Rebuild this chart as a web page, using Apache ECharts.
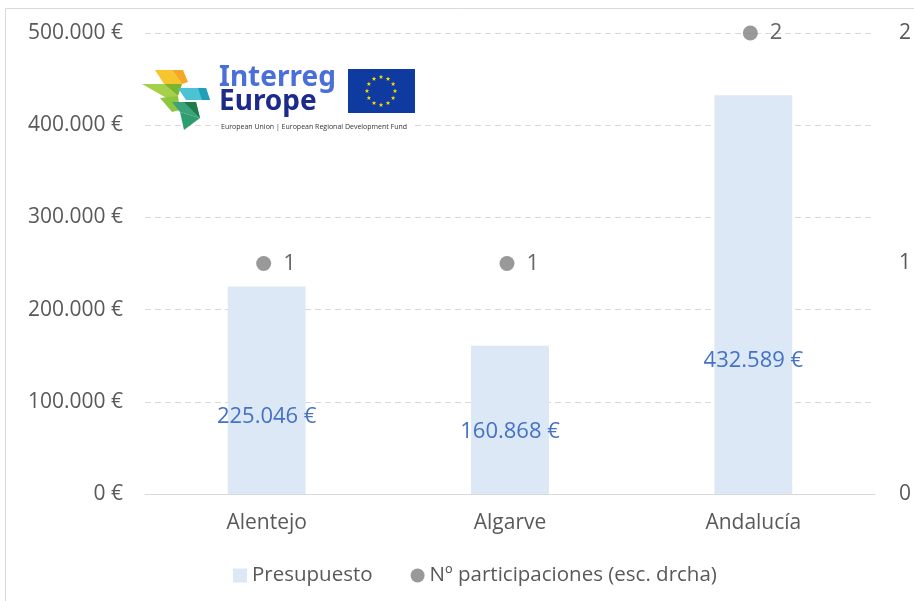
<!DOCTYPE html>
<html><head><meta charset="utf-8">
<script src="https://cdn.jsdelivr.net/npm/echarts@6/dist/echarts.min.js"></script>
<style>html,body{margin:0;padding:0;background:#fff}#c{width:914px;height:601px}</style>
</head><body><div id="c"></div>
<script>
const categories = ['Alentejo', 'Algarve', 'Andalucía'];
const presupuesto = [225046, 160868, 432589];
const participaciones = [1, 1, 2];
const leftTicks = [0, 100000, 200000, 300000, 400000, 500000];
const rightTicks = [0, 1, 2];

const FONT = '"Open Sans", "Noto Sans", sans-serif';
function fmt(v){ return String(v).replace(/\B(?=(\d{3})+(?!\d))/g, '.') + ' €'; }
const labelOffsets = [26, 12, 66];

const chart = echarts.init(document.getElementById('c'), null, {renderer:'canvas'});

// stars for EU flag
function starPts(cx, cy, r, r0){
  const pts = [];
  for (let k = 0; k < 10; k++) {
    const rr = k % 2 ? r0 : r;
    const a = k * Math.PI / 5;
    pts.push([cx + rr*Math.sin(a), cy - rr*Math.cos(a)]);
  }
  return pts;
}
const stars = [];
for (let i = 0; i < 12; i++) {
  const a = i * Math.PI / 6;
  stars.push({type:'polygon', shape:{points:starPts(381 + 14*Math.sin(a), 91 - 14*Math.cos(a), 2.4, 1)}, style:{fill:'#ffdd00'}, z:101});
}

chart.setOption({
  backgroundColor:'#fff',
  animation:false,
  textStyle:{fontFamily:FONT},
  grid:{left:145, right:38, top:33, bottom:107, containLabel:false},
  legend:{
    bottom:10, left:228, itemGap:38, itemWidth:14, itemHeight:14,
    textStyle:{fontSize:20.5, color:'#595959', fontFamily:FONT},
    data:[{name:'Presupuesto', icon:'rect'}, {name:'Nº participaciones (esc. drcha)', icon:'circle'}]
  },
  xAxis:{
    type:'category', data:categories,
    axisLine:{lineStyle:{color:'#d9d9d9', width:1}},
    axisTick:{show:false},
    axisLabel:{fontSize:21, color:'#595959', margin:19, fontFamily:FONT}
  },
  yAxis:[{
    type:'value', min:0, max:500000, interval:100000,
    axisLabel:{fontSize:21, color:'#595959', margin:22, formatter:v=>fmt(v), fontFamily:FONT},
    splitLine:{lineStyle:{color:'#d9d9d9', type:[6,4], width:1}},
    axisLine:{show:false}, axisTick:{show:false}
  },{
    type:'value', min:0, max:2, interval:1,
    axisLabel:{fontSize:21, color:'#595959', margin:24, fontFamily:FONT},
    splitLine:{show:false}, axisLine:{show:false}, axisTick:{show:false}
  }],
  series:[{
    name:'Presupuesto', type:'bar', yAxisIndex:0, barWidth:'32%',
    itemStyle:{color:'#dce8f6'},
    data: presupuesto.map((v,i)=>({value:v, label:{offset:[0, labelOffsets[i]]}})),
    label:{show:true, position:'inside', formatter:p=>fmt(p.value), fontSize:22, color:'#4472c4', fontFamily:FONT},
    z:2
  },{
    name:'Nº participaciones (esc. drcha)', type:'scatter', yAxisIndex:1,
    symbol:'circle', symbolSize:15, symbolOffset:[-3,0],
    itemStyle:{color:'#7f7f7f'},
    data: participaciones,
    label:{show:true, position:'right', distance:12, fontSize:22, color:'#404040', fontFamily:FONT},
    z:3
  }],
  graphic:[
    {type:'rect', shape:{x:5.5, y:8.5, width:930, height:620}, style:{fill:null, stroke:'#d9d9d9', lineWidth:1}, z:-1, silent:true},
    {type:'group', z:100, children:[
      {type:'rect', shape:{x:140, y:66, width:278, height:54}, style:{fill:'#fff'}, z:100},
      {type:'polygon', shape:{points:[[155,70],[172,70],[182,84],[164,84]]}, style:{fill:'#f7c62f'}, z:101},
      {type:'polygon', shape:{points:[[172,70],[183,70],[188,82],[182,84]]}, style:{fill:'#f4a826'}, z:101},
      {type:'polygon', shape:{points:[[142,84],[164,84],[178,96],[170,100]]}, style:{fill:'#a6cf4a'}, z:101},
      {type:'polygon', shape:{points:[[164,84],[182,84],[178,96]]}, style:{fill:'#7bb52e'}, z:101},
      {type:'polygon', shape:{points:[[160,98],[178,96],[180,110],[172,112]]}, style:{fill:'#8dc63f'}, z:101},
      {type:'polygon', shape:{points:[[178,88],[206,88],[210,100],[186,100]]}, style:{fill:'#4cc3d4'}, z:101},
      {type:'polygon', shape:{points:[[198,88],[206,88],[210,100],[202,100]]}, style:{fill:'#1f9fb8'}, z:101},
      {type:'polygon', shape:{points:[[172,102],[196,102],[200,118],[180,112]]}, style:{fill:'#3aa37a'}, z:101},
      {type:'polygon', shape:{points:[[184,102],[196,102],[200,118]]}, style:{fill:'#1f7a4a'}, z:101},
      {type:'polygon', shape:{points:[[180,112],[200,118],[184,130]]}, style:{fill:'#2f9e6e'}, z:101},
      {type:'text', style:{x:219, y:64, text:'Interreg', fontSize:28, fontWeight:'bold', fill:'#4a6fd8', fontFamily:'"Noto Sans", sans-serif'}, z:101},
      {type:'text', style:{x:219, y:88, text:'Europe', fontSize:28, fontWeight:'bold', fill:'#1d2a8c', fontFamily:'"Noto Sans", sans-serif'}, z:101},
      {type:'rect', shape:{x:348, y:69, width:67, height:44}, style:{fill:'#0f3aa0'}, z:101},
      {type:'rect', shape:{x:219, y:122, width:196, height:9}, style:{fill:'#fff'}, z:100},
      {type:'text', style:{x:221, y:123, text:'European Union | European Regional Development Fund', fontSize:7, fill:'#333', fontFamily:FONT}, z:101},
      ...stars
    ]}
  ]
});
</script></body></html>
